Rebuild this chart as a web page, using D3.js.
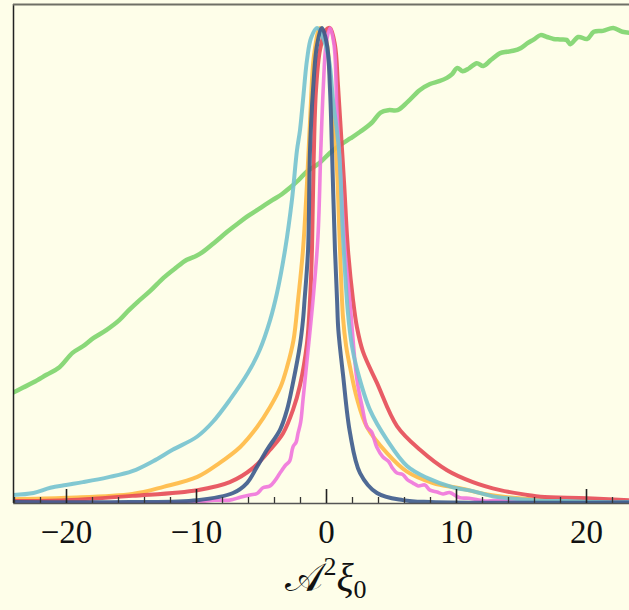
<!DOCTYPE html>
<html>
<head>
<meta charset="utf-8">
<script src="https://cdn.jsdelivr.net/npm/d3@7"></script>
<style>
  html, body { margin: 0; padding: 0; background: #fefee9; }
  svg { display: block; }
</style>
</head>
<body>
<svg id="chart" width="629" height="610"></svg>
<script>
// Normalised distributions versus A^2 xi_0 (each curve scaled to peak = 1)

const greenX = [-24.1, -23.3, -22.5, -21.5, -20.5, -19.5, -18.7, -17.9, -16.9, -15.9, -15.2, -14.5, -13.5, -12.5, -11.6, -10.7, -10.0, -9.5, -8.5, -7.6, -6.8, -5.9, -5.0, -4.1, -3.4, -2.8, -2.1, -1.5, -0.5, 0.3, 1.1, 1.9, 2.6, 3.5, 4.2, 4.8, 5.5, 6.3, 7.2, 8.0, 8.7, 9.3, 9.7, 10.1, 10.5, 11.0, 11.6, 12.1, 12.7, 13.4, 13.9, 14.4, 15.0, 15.5, 16.0, 16.5, 17.0, 17.5, 18.0, 18.5, 18.8, 19.4, 20.1, 20.6, 21.3, 22.1, 22.8, 23.5, 24.1];
const greenY = [0.232, 0.243, 0.254, 0.270, 0.286, 0.316, 0.330, 0.347, 0.364, 0.385, 0.405, 0.423, 0.447, 0.474, 0.494, 0.512, 0.520, 0.528, 0.550, 0.571, 0.588, 0.606, 0.622, 0.638, 0.650, 0.663, 0.680, 0.697, 0.716, 0.737, 0.754, 0.768, 0.781, 0.800, 0.822, 0.827, 0.827, 0.845, 0.869, 0.882, 0.888, 0.895, 0.903, 0.916, 0.909, 0.915, 0.926, 0.920, 0.933, 0.947, 0.950, 0.952, 0.958, 0.968, 0.976, 0.985, 0.981, 0.977, 0.976, 0.975, 0.966, 0.981, 0.977, 0.992, 0.994, 1.0, 0.992, 0.990, 0.991];

const orangeX = [-24.1, -20.0, -14.9, -12.5, -9.9, -8.2, -6.6, -5.3, -4.3, -3.5, -3.0, -2.5, -2.15, -1.77, -1.46, -1.2, -0.92, -0.46, 0.0, 0.31, 0.62, 0.85, 1.08, 1.31, 1.55, 1.85, 2.38, 3.15, 4.69, 6.23, 8.23, 10.3, 12.4, 14.4, 18.5, 24.1];
const orangeY = [0.008, 0.011, 0.019, 0.034, 0.055, 0.084, 0.118, 0.160, 0.202, 0.244, 0.286, 0.343, 0.427, 0.533, 0.674, 0.820, 0.943, 1.0, 0.975, 0.900, 0.800, 0.700, 0.533, 0.390, 0.330, 0.286, 0.220, 0.160, 0.105, 0.066, 0.042, 0.031, 0.018, 0.011, 0.004, 0.002];

const redX = [-24.1, -20.0, -14.9, -9.9, -7.4, -5.6, -4.3, -3.3, -2.54, -2.0, -1.46, -1.23, -1.08, -0.95, -0.77, -0.46, 0.0, 0.31, 0.69, 0.92, 1.15, 1.4, 1.69, 2.08, 2.38, 2.85, 3.92, 5.46, 7.23, 9.31, 11.3, 13.4, 15.5, 16.5, 20.1, 24.1];
const redY = [0.004, 0.006, 0.015, 0.027, 0.044, 0.074, 0.112, 0.147, 0.196, 0.248, 0.337, 0.427, 0.533, 0.720, 0.869, 0.954, 0.996, 1.0, 0.964, 0.880, 0.780, 0.670, 0.533, 0.427, 0.370, 0.318, 0.253, 0.162, 0.112, 0.069, 0.044, 0.027, 0.017, 0.013, 0.010, 0.005];

const pinkX = [-24.1, -13.5, -9.9, -8.6, -7.4, -6.6, -5.85, -5.3, -4.85, -4.3, -3.9, -3.54, -3.1, -2.8, -2.54, -2.3, -2.15, -1.95, -1.77, -1.38, -1.0, -0.62, -0.4, -0.2, 0.0, 0.31, 0.62, 0.85, 1.1, 1.46, 1.85, 2.38, 2.8, 3.15, 3.5, 3.9, 4.38, 4.8, 5.1, 5.46, 5.9, 6.3, 6.69, 7.1, 7.6, 8.0, 8.54, 9.0, 9.5, 10.3, 11.0, 12.4, 13.3, 14.9, 18.0, 24.1];
const pinkY = [0.0, 0.0, 0.002, 0.006, 0.006, 0.012, 0.017, 0.020, 0.032, 0.036, 0.048, 0.063, 0.080, 0.088, 0.118, 0.128, 0.147, 0.170, 0.217, 0.322, 0.427, 0.560, 0.743, 0.880, 0.964, 1.0, 0.964, 0.820, 0.700, 0.533, 0.420, 0.260, 0.200, 0.160, 0.150, 0.118, 0.097, 0.088, 0.074, 0.063, 0.060, 0.048, 0.042, 0.036, 0.038, 0.027, 0.023, 0.019, 0.022, 0.011, 0.010, 0.004, 0.006, 0.002, 0.0, 0.0];

const cyanX = [-24.1, -22.5, -21.2, -20.0, -18.7, -16.8, -14.9, -13.3, -11.8, -9.9, -8.7, -7.4, -6.0, -5.1, -4.3, -3.77, -3.15, -2.62, -2.23, -2.0, -1.77, -1.46, -1.15, -0.69, -0.31, 0.23, 0.54, 1.0, 1.31, 1.69, 2.0, 2.38, 3.38, 4.69, 6.23, 7.77, 9.77, 11.3, 12.85, 14.9, 16.5, 18.5, 21.0, 24.1];
const cyanY = [0.017, 0.021, 0.032, 0.038, 0.044, 0.054, 0.067, 0.088, 0.112, 0.140, 0.171, 0.217, 0.274, 0.322, 0.385, 0.442, 0.533, 0.638, 0.743, 0.785, 0.848, 0.933, 0.979, 1.0, 0.985, 0.933, 0.848, 0.743, 0.560, 0.400, 0.330, 0.282, 0.196, 0.133, 0.078, 0.053, 0.033, 0.025, 0.014, 0.008, 0.005, 0.004, 0.002, 0.002];

const navyX = [-24.1, -15.1, -9.9, -7.15, -6.08, -5.31, -4.54, -3.54, -3.0, -2.54, -2.0, -1.77, -1.65, -1.38, -1.23, -1.0, -0.69, -0.31, 0.08, 0.31, 0.46, 0.69, 0.85, 0.95, 1.31, 1.85, 2.62, 3.92, 5.92, 8.0, 24.1];
const navyY = [0.002, 0.002, 0.006, 0.021, 0.042, 0.076, 0.112, 0.154, 0.196, 0.253, 0.333, 0.385, 0.427, 0.533, 0.743, 0.869, 0.964, 1.0, 0.964, 0.869, 0.743, 0.533, 0.427, 0.364, 0.270, 0.147, 0.063, 0.021, 0.006, 0.002, 0.001];

const series = [
  { name: "green",  color: "#7dd46d", xs: greenX,  ys: greenY,  width: 4.5 },
  { name: "orange", color: "#ffb944", xs: orangeX, ys: orangeY, width: 4 },
  { name: "red",    color: "#e64a57", xs: redX,    ys: redY,    width: 4 },
  { name: "pink",   color: "#ef74dc", xs: pinkX,   ys: pinkY,   width: 3.6 },
  { name: "cyan",   color: "#74c2cf", xs: cyanX,   ys: cyanY,   width: 4 },
  { name: "navy",   color: "#3c5a8c", xs: navyX,   ys: navyY,   width: 4 }
];

const majorTicks = [-20, -10, 0, 10, 20];
const minorTicks = d3.range(-24, 25, 2).filter(v => v % 10 !== 0);

const svg = d3.select("#chart");
const W = 629, H = 610;
const plotLeft = 13, plotTop = 4, plotBottom = 503;

svg.append("rect").attr("width", W).attr("height", H).attr("fill", "#fefee9");

const x = d3.scaleLinear().domain([-24.1, 24.1]).range([12.7, 639.3]);
const y = d3.scaleLinear().domain([0, 1]).range([plotBottom, 28]);

svg.append("defs").append("clipPath").attr("id", "plotClip")
  .append("rect").attr("x", plotLeft).attr("y", plotTop)
  .attr("width", W - plotLeft).attr("height", plotBottom - plotTop);

const line = d3.line()
  .x(d => x(d[0]))
  .y(d => y(d[1]))
  .curve(d3.curveCatmullRom.alpha(0.5));

const g = svg.append("g").attr("clip-path", "url(#plotClip)");
series.forEach(s => {
  g.append("path")
    .datum(s.xs.map((v, i) => [v, s.ys[i]]))
    .attr("fill", "none")
    .attr("stroke", s.color)
    .attr("stroke-width", s.width)
    .attr("stroke-opacity", 0.9)
    .attr("stroke-linejoin", "round")
    .attr("stroke-linecap", "round")
    .attr("d", line);
});

// frame: left edge and top edge
svg.append("line").attr("x1", plotLeft + 0.5).attr("x2", plotLeft + 0.5)
  .attr("y1", plotTop).attr("y2", plotBottom)
  .attr("stroke", "#222").attr("stroke-width", 1.5);
svg.append("line").attr("x1", plotLeft).attr("x2", W)
  .attr("y1", plotTop + 0.5).attr("y2", plotTop + 0.5)
  .attr("stroke", "#6f6f66").attr("stroke-width", 2);

// bottom axis: minor ticks, then major ticks with labels
const minorAxis = d3.axisBottom(x).tickValues(minorTicks).tickSize(-6).tickSizeOuter(0).tickFormat("");
const gMinor = svg.append("g").attr("transform", `translate(0,${plotBottom})`).call(minorAxis);
gMinor.select(".domain").remove();
gMinor.selectAll(".tick line").attr("stroke", "#333").attr("stroke-width", 1.3);

const majorAxis = d3.axisBottom(x).tickValues(majorTicks).tickSize(-14).tickSizeOuter(0)
  .tickPadding(17).tickFormat(d => d < 0 ? "\u2212" + Math.abs(d) : String(d));
const gMajor = svg.append("g").attr("transform", `translate(0,${plotBottom})`).call(majorAxis);
gMajor.select(".domain").attr("stroke", "#555").attr("stroke-width", 1.5);
gMajor.selectAll(".tick line").attr("stroke", "#222").attr("stroke-width", 1.6);
gMajor.selectAll(".tick text")
  .attr("font-family", "'Liberation Serif', 'DejaVu Serif', serif")
  .attr("font-size", 33)
  .attr("fill", "#111");

// axis title
const title = svg.append("text")
  .attr("x", 326).attr("y", 591)
  .attr("text-anchor", "middle")
  .attr("font-family", "'Liberation Serif', 'DejaVu Serif', serif")
  .attr("font-size", 40)
  .attr("fill", "#111");
title.append("tspan").text("\uD835\uDC9C");
title.append("tspan").attr("font-size", 26).attr("dy", -16).text("2");
title.append("tspan").attr("font-style", "italic").attr("dy", 16).text("\u03BE");
title.append("tspan").attr("font-size", 26).attr("dy", 7).text("0");
</script>
</body>
</html>
